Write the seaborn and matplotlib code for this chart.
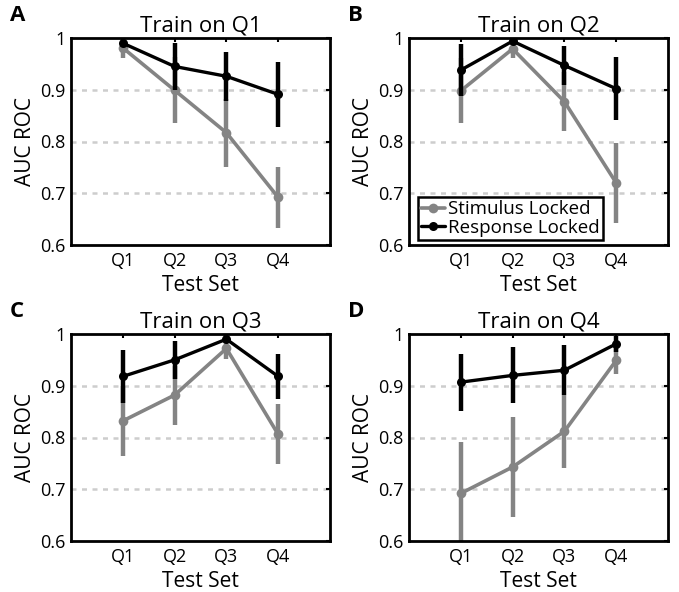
import numpy as np
import pandas as pd
import matplotlib
matplotlib.use("Agg")
import matplotlib.pyplot as plt
import seaborn as sns

# ---- data ----
test_sets = ["Q1", "Q2", "Q3", "Q4"]
panel_letters = ["A", "B", "C", "D"]
titles = ["Train on Q1", "Train on Q2", "Train on Q3", "Train on Q4"]
series_names = ["Stimulus Locked", "Response Locked"]

stim_mean = [
    [0.981, 0.899, 0.817, 0.692],
    [0.898, 0.979, 0.877, 0.720],
    [0.832, 0.882, 0.972, 0.806],
    [0.692, 0.743, 0.812, 0.949],
]
stim_err = [
    [0.020, 0.064, 0.066, 0.059],
    [0.063, 0.018, 0.057, 0.078],
    [0.067, 0.057, 0.020, 0.058],
    [0.100, 0.097, 0.070, 0.027],
]
resp_mean = [
    [0.990, 0.945, 0.926, 0.891],
    [0.938, 0.994, 0.947, 0.902],
    [0.918, 0.950, 0.990, 0.918],
    [0.907, 0.920, 0.930, 0.981],
]
resp_err = [
    [0.008, 0.046, 0.047, 0.063],
    [0.051, 0.008, 0.038, 0.061],
    [0.052, 0.036, 0.008, 0.044],
    [0.055, 0.054, 0.048, 0.016],
]

GRAY = "#848484"
BLACK = "#000000"

sns.set_theme(style="white")
plt.rcParams["font.family"] = ["Open Sans", "DejaVu Sans"]
plt.rcParams["text.color"] = "black"
plt.rcParams["axes.labelcolor"] = "black"
plt.rcParams["xtick.color"] = "black"
plt.rcParams["ytick.color"] = "black"

fig = plt.figure(figsize=(6.79, 5.92), dpi=100)

lefts = [71 / 679, 409 / 679]
bottoms = [1 - 245 / 592, 1 - 541 / 592]
w = 259 / 679
h = 207 / 592

for i in range(4):
    r, c = divmod(i, 2)
    ax = fig.add_axes([lefts[c], bottoms[r], w, h])
    xpos = np.arange(1, 5)
    df = pd.DataFrame({
        "x": np.concatenate([xpos, xpos]),
        "AUC": np.concatenate([stim_mean[i], resp_mean[i]]),
        "series": [series_names[0]] * 4 + [series_names[1]] * 4,
    })
    # grid lines
    for gy in [0.7, 0.8, 0.9]:
        ax.axhline(gy, color="#cdcdcd", lw=1.8, ls=(0, (2.0, 2.2)), zorder=0)
    # error bars (gray first, then black on top)
    ax.vlines(xpos, np.array(stim_mean[i]) - np.array(stim_err[i]),
              np.array(stim_mean[i]) + np.array(stim_err[i]),
              color=GRAY, lw=3.2, zorder=2)
    sns.lineplot(data=df[df.series == series_names[0]], x="x", y="AUC",
                 color=GRAY, marker="o", markersize=7, markeredgewidth=0,
                 lw=2.6, ax=ax, label=series_names[0] if i == 1 else None,
                 zorder=3, legend=False)
    ax.vlines(xpos, np.array(resp_mean[i]) - np.array(resp_err[i]),
              np.array(resp_mean[i]) + np.array(resp_err[i]),
              color=BLACK, lw=3.2, zorder=4)
    sns.lineplot(data=df[df.series == series_names[1]], x="x", y="AUC",
                 color=BLACK, marker="o", markersize=6.5, markeredgewidth=0,
                 lw=2.4, ax=ax, label=series_names[1] if i == 1 else None,
                 zorder=5, legend=False)

    ax.set_xlim(0, 5)
    ax.set_ylim(0.6, 1.0)
    ax.set_xticks(xpos)
    ax.set_xticklabels(test_sets)
    ax.set_yticks([0.6, 0.7, 0.8, 0.9, 1.0])
    ax.set_yticklabels(["0.6", "0.7", "0.8", "0.9", "1"])
    ax.tick_params(direction="in", length=3, width=1.5, colors="black",
                   labelsize=13, top=True, right=True)
    ax.tick_params(axis="x", pad=5)
    ax.tick_params(axis="y", pad=4)
    for sp in ax.spines.values():
        sp.set_visible(True)
        sp.set_color("black")
        sp.set_linewidth(2.0)
    ax.set_xlabel("Test Set", fontsize=15, labelpad=3.5, color="black")
    ax.set_ylabel("AUC ROC", fontsize=15, labelpad=3, color="black")
    ax.set_title(titles[i], fontsize=16, pad=5, color="black")
    ax.text(-0.235, 1.06, panel_letters[i], transform=ax.transAxes,
            fontsize=16, fontweight="bold", ha="left", va="bottom",
            color="black")

    if i == 1:
        handles, labels = ax.get_legend_handles_labels()
        leg = ax.legend(handles, labels, loc="lower left",
                        bbox_to_anchor=(0.035, 0.025), borderaxespad=0,
                        fontsize=13.5, handlelength=1.3, handletextpad=0.15,
                        borderpad=0.15, labelspacing=0.05, fancybox=False,
                        framealpha=1, edgecolor="black", labelcolor="black")
        leg.get_frame().set_linewidth(1.8)

fig.savefig("out.png", dpi=100)
